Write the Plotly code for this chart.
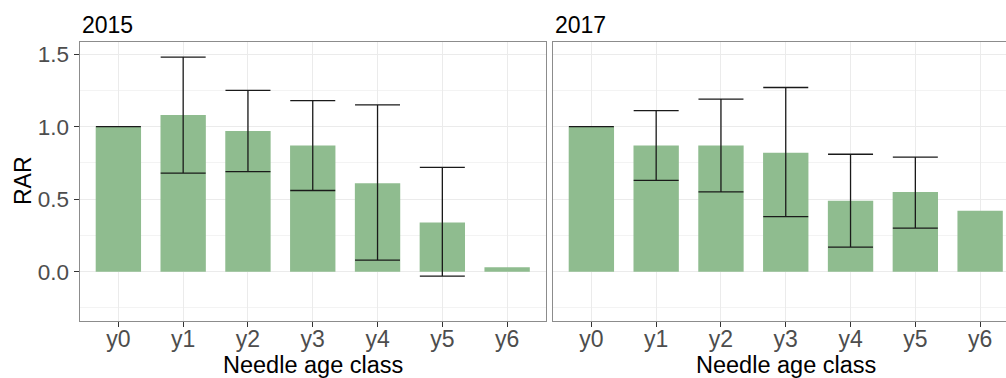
import plotly.graph_objects as go

# Needle age classes and relative values (RAR) with interval bounds per campaign year
categories = ["y0", "y1", "y2", "y3", "y4", "y5", "y6"]

rar_2015 = [1.00, 1.08, 0.97, 0.87, 0.61, 0.34, 0.03]
lower_2015 = [1.00, 0.68, 0.69, 0.56, 0.08, -0.03, None]
upper_2015 = [1.00, 1.48, 1.25, 1.18, 1.15, 0.72, None]

rar_2017 = [1.00, 0.87, 0.87, 0.82, 0.49, 0.55, 0.42]
lower_2017 = [1.00, 0.63, 0.55, 0.38, 0.17, 0.30, None]
upper_2017 = [1.00, 1.11, 1.19, 1.27, 0.81, 0.79, None]

panels = ["2015", "2017"]

W, H = 1006, 378
FONT = "Liberation Sans, Arial, sans-serif"
BAR_COLOR = "#8fbc8f"
GRID = "#ebebeb"
BORDER = "#8c8c8c"
TICK_TXT = "#4d4d4d"

fig = go.Figure()

series = [(rar_2015, lower_2015, upper_2015, "x", "y"),
          (rar_2017, lower_2017, upper_2017, "x2", "y2")]
for vals, lo, hi, xa, ya in series:
    fig.add_trace(go.Bar(
        x=categories, y=vals, xaxis=xa, yaxis=ya, width=0.7,
        marker=dict(color=BAR_COLOR, line=dict(width=0)),
        showlegend=False, hoverinfo="skip",
    ))
    # interval bars only for classes that have bounds
    keep = [i for i in range(len(categories)) if lo[i] is not None and hi[i] is not None]
    fig.add_trace(go.Scatter(
        x=[categories[i] for i in keep], y=[vals[i] for i in keep],
        xaxis=xa, yaxis=ya, mode="markers",
        marker=dict(size=1, opacity=0),
        error_y=dict(type="data", symmetric=False,
                     array=[hi[i] - vals[i] for i in keep],
                     arrayminus=[vals[i] - lo[i] for i in keep],
                     color="#1a1a1a", thickness=1.3, width=22.5),
        showlegend=False, hoverinfo="skip",
    ))

# panel geometry in pixels
left1, right1 = 79.5, 546.0
left2 = 552.5
top, bottom = 41.7, 320.7
step = (right1 - left1) / 7.2
x2_end = -0.6 + (W - left2) / step
ydom = [(H - bottom) / H, (H - top) / H]
yrange = [-0.338, 1.586]

common_x = dict(type="category", showgrid=True, gridcolor=GRID, gridwidth=1,
                ticks="outside", ticklen=5, tickcolor="#333333", tickwidth=1,
                ticklabelstandoff=-7,
                tickfont=dict(family=FONT, size=23, color=TICK_TXT),
                showline=True, linecolor=BORDER, linewidth=1, mirror=True,
                zeroline=False, fixedrange=True)
common_y = dict(range=yrange, domain=ydom, tick0=0, dtick=0.5,
                showgrid=True, gridcolor=GRID, gridwidth=1,
                minor=dict(dtick=0.25, tick0=0, showgrid=True, gridcolor="#f3f3f3", gridwidth=1),
                zeroline=False, showline=True, linecolor=BORDER, linewidth=1,
                fixedrange=True)

fig.update_layout(
    width=W, height=H,
    margin=dict(l=0, r=0, t=0, b=0),
    paper_bgcolor="white", plot_bgcolor="white",
    xaxis=dict(domain=[left1 / W, right1 / W], range=[-0.6, 6.6], anchor="y", **common_x),
    xaxis2=dict(domain=[left2 / W, 1.0], range=[-0.6, x2_end], anchor="y2", **common_x),
    yaxis=dict(anchor="x", mirror=True, ticks="outside", ticklen=5, tickcolor="#333333",
               tickformat=".1f",
               tickfont=dict(family=FONT, size=22.5, color=TICK_TXT), **common_y),
    yaxis2=dict(anchor="x2", mirror=False, showticklabels=False, ticks="", **common_y),
)

annotations = []
# strip titles
for name, xpx in zip(panels, [left1, left2]):
    annotations.append(dict(text=name, x=xpx / W, y=(H - 25) / H, xref="paper", yref="paper",
                            xanchor="left", yanchor="middle", showarrow=False,
                            font=dict(family=FONT, size=23, color="black")))
# x axis titles, centred on each full panel
panel2_right = left2 + (right1 - left1)
for cx in [(left1 + right1) / 2, (left2 + panel2_right) / 2]:
    annotations.append(dict(text="Needle age class", x=cx / W, y=(H - 365) / H,
                            xref="paper", yref="paper", xanchor="center", yanchor="middle",
                            showarrow=False, font=dict(family=FONT, size=23.5, color="black")))
# y axis title
annotations.append(dict(text="RAR", x=22.5 / W, y=(H - 180.5) / H, xref="paper", yref="paper",
                        xanchor="center", yanchor="middle", textangle=-90, showarrow=False,
                        font=dict(family=FONT, size=23, color="black")))
fig.update_layout(annotations=annotations)

fig.write_html("out.html")
